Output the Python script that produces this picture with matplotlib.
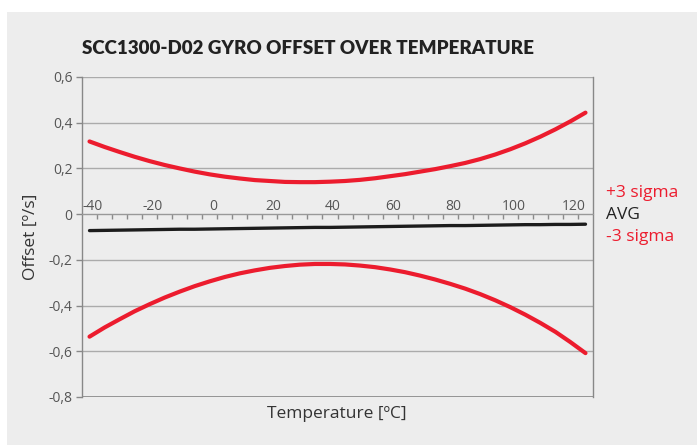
import matplotlib
matplotlib.use("Agg")
import matplotlib.pyplot as plt
import matplotlib.transforms as mtransforms
from matplotlib.patches import Rectangle
from matplotlib.ticker import FixedLocator, FuncFormatter

plt.rcParams["axes.unicode_minus"] = False

# temperatures (degC), one category every 5 degrees
temps = list(range(-40, 130, 5))

plus3 = [0.318, 0.294, 0.272, 0.251, 0.232, 0.215, 0.200, 0.186, 0.174, 0.164,
         0.156, 0.149, 0.145, 0.141, 0.140, 0.140, 0.142, 0.145, 0.150, 0.157,
         0.166, 0.175, 0.186, 0.197, 0.210, 0.224, 0.241, 0.261, 0.284, 0.310,
         0.339, 0.371, 0.406, 0.444]
avg = [-0.072, -0.071, -0.070, -0.069, -0.068, -0.067, -0.066, -0.066, -0.065, -0.064,
       -0.063, -0.062, -0.061, -0.060, -0.059, -0.058, -0.058, -0.057, -0.056, -0.055,
       -0.054, -0.053, -0.052, -0.051, -0.050, -0.050, -0.049, -0.048, -0.047, -0.046,
       -0.046, -0.045, -0.045, -0.044]
minus3 = [-0.536, -0.496, -0.460, -0.425, -0.394, -0.365, -0.339, -0.315, -0.294, -0.275,
          -0.259, -0.246, -0.235, -0.227, -0.221, -0.218, -0.218, -0.220, -0.225, -0.232,
          -0.242, -0.254, -0.269, -0.286, -0.305, -0.326, -0.350, -0.377, -0.407, -0.440,
          -0.476, -0.515, -0.560, -0.608]

x_labels = [-40, -20, 0, 20, 40, 60, 80, 100, 120]
y_ticks = [-0.8, -0.6, -0.4, -0.2, 0, 0.2, 0.4, 0.6]

red = "#ec1c2e"
dark = "#1c1c1c"
grey_txt = "#555555"
panel = "#ededed"
fonts = ["Open Sans", "DejaVu Sans"]

fig = plt.figure(figsize=(6.97, 4.45), dpi=100)
fig.patch.set_facecolor("white")
fig.patches.append(Rectangle((7 / 697, 0), 1, 1 - 12 / 445, transform=fig.transFigure,
                             facecolor=panel, edgecolor="none", zorder=-5))

ax = fig.add_axes([82 / 697, 1 - 397 / 445, 511 / 697, 320 / 445])
ax.set_zorder(2)
ax.set_facecolor(panel)

ax.plot(temps, plus3, color=red, lw=3.0, solid_capstyle="round", zorder=3)
ax.plot(temps, minus3, color=red, lw=3.0, solid_capstyle="round", zorder=3)
ax.plot(temps, avg, color=dark, lw=2.4, solid_capstyle="round", zorder=3)

ax.set_xlim(-42.5, 127.5)
ax.set_ylim(-0.8, 0.6)

# y axis
ax.set_yticks(y_ticks)
ax.yaxis.set_major_formatter(FuncFormatter(lambda v, p: ("%g" % round(v, 1)).replace(".", ",")))
ax.yaxis.grid(True, color="#ababab", lw=1.0)
ax.tick_params(axis="y", direction="out", length=4, width=1, color="#888888",
               labelsize=10, labelcolor=grey_txt, pad=3)

# x axis through zero, labels above, tick marks between categories
ax.spines["bottom"].set_position(("data", 0))
ax.spines["bottom"].set_color("#999999")
ax.spines["top"].set_visible(False)
for s in ["left", "right"]:
    ax.spines[s].set_color("#888888")
    ax.spines[s].set_linewidth(1.0)
ax.axhline(-0.8, color="#888888", lw=1.2, zorder=2)
ax.xaxis.set_major_locator(FixedLocator(x_labels))
ax.xaxis.set_minor_locator(FixedLocator([t - 2.5 for t in temps[1:]]))
ax.tick_params(axis="x", which="major", length=0, labelbottom=True,
               top=False, bottom=False, labelsize=10, labelcolor=grey_txt, pad=-11)
ax.tick_params(axis="x", which="minor", bottom=True, direction="out", length=3.5,
               width=1, color="#8a8a8a")
shift = mtransforms.ScaledTranslation(3 / 100, 0, fig.dpi_scale_trans)
for lab in ax.get_xticklabels():
    lab.set_fontfamily(fonts)
    lab.set_transform(lab.get_transform() + shift)
for lab in ax.get_yticklabels():
    lab.set_fontfamily(fonts)
ax.set_axisbelow(True)

fig.text(82 / 697, 1 - 48 / 445, "SCC1300-D02 GYRO OFFSET OVER TEMPERATURE",
         fontsize=13.5, fontweight="heavy", color="#222222", va="center", ha="left",
         family=["Lato", "DejaVu Sans"])
fig.text(31 / 697, 1 - 237 / 445, "Offset [º/s]", rotation=90, fontsize=12.5,
         color="#333333", va="center", ha="center", family=fonts)
fig.text(337 / 697, 1 - 414 / 445, "Temperature [ºC]", fontsize=12.5,
         color="#333333", va="center", ha="center", family=fonts)

fig.text(606 / 697, 1 - 193 / 445, "+3 sigma", fontsize=12.5, color=red, va="center",
         family=fonts)
fig.text(606 / 697, 1 - 215 / 445, "AVG", fontsize=12.5, color="#222222", va="center",
         family=fonts)
fig.text(606 / 697, 1 - 237 / 445, "-3 sigma", fontsize=12.5, color=red, va="center",
         family=fonts)

fig.savefig("out.png", dpi=100, facecolor=fig.get_facecolor())
